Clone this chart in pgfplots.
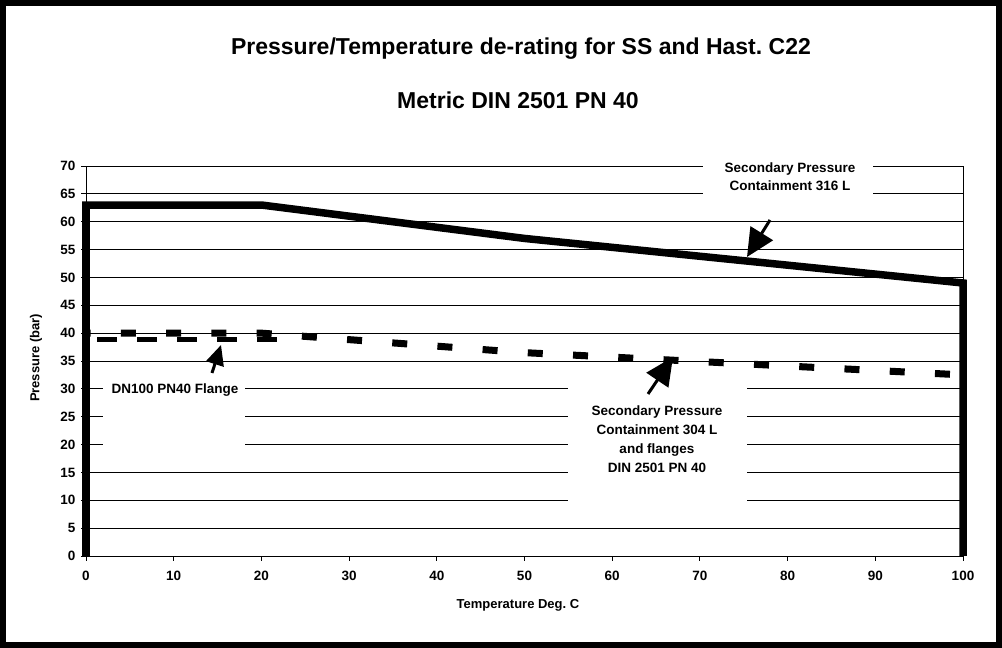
\documentclass[border=0pt]{standalone}
\usepackage{fontspec}
\setmainfont{Liberation Sans}
\usepackage{pgfplots}
\pgfplotsset{compat=1.18}
\usetikzlibrary{arrows.meta}
\frenchspacing

\begin{document}
\begin{tikzpicture}[x=1pt,y=1pt]
\path[use as bounding box] (0,0) rectangle (1002,648);
\begin{axis}[
  at={(86pt,92pt)}, anchor=south west,
  scale only axis, width=877pt, height=390pt,
  xmin=0, xmax=100, ymin=0, ymax=70,
  xtick={0,10,...,100}, ytick={0,5,...,70},
  ymajorgrids, grid style={black, line width=0.8pt},
  axis line style={black, line width=0.9pt},
  tick style={black, line width=0.9pt},
  tick align=outside, major tick length=5pt,
  xtick pos=left, ytick pos=left,
  ticklabel style={font=\bfseries\fontsize{13.5}{16}\selectfont},
  xticklabel style={yshift=-7pt},
  yticklabel style={xshift=-2pt},
  /pgf/number format/assume math mode=true,
  xlabel={Temperature Deg. C}, ylabel={Pressure (bar)},
  label style={font=\bfseries\fontsize{13}{15}\selectfont},
  xlabel style={at={(axis description cs:0.4926,-0.1256)}, anchor=center},
  ylabel style={at={(axis description cs:-0.057,0.508)}, anchor=center},
  clip=false,
]
\addplot[black, line width=5pt, dash pattern=on 20pt off 20pt, dash phase=29pt] coordinates {(0,38.8) (23.5,38.8)};
\addplot[black, line width=7pt, dash pattern=on 15pt off 30.3pt, dash phase=10.5pt] coordinates {(0,40) (20,40) (50,36.5) (100,32.5)};
\addplot[black, line width=7.5pt] coordinates {(0,0) (0,63) (20,63) (50,57) (100,49) (100,0)};
\end{axis}
% outer frame
\draw[line width=6pt] (3,3) rectangle (999,645);
% titles
\node[font=\bfseries\fontsize{23}{27}\selectfont] at (521,599) {Pressure/Temperature de-rating for SS and Hast. C22};
\node[font=\bfseries\fontsize{23}{27}\selectfont] at (518,548) {Metric DIN 2501 PN 40};
% annotation boxes
\fill[white] (703,445) rectangle (873,491);
\node[font=\bfseries\fontsize{13.5}{18}\selectfont, align=center] at (790,471) {Secondary Pressure\\Containment 316 L};
\fill[white] (103,196) rectangle (245,270);
\node[font=\bfseries\fontsize{13.5}{18}\selectfont] at (175,258) {DN100 PN40 Flange};
\fill[white] (568,136) rectangle (747,270);
\node[font=\bfseries\fontsize{13.5}{19}\selectfont, align=center] at (657,208.5) {Secondary Pressure\\Containment 304 L\\and flanges\\DIN 2501 PN 40};
% arrows
\draw[line width=3pt, -{Triangle[length=28pt,width=26pt]}] (770,428) -- (747,391);
\draw[line width=3pt, -{Triangle[length=28pt,width=26pt]}] (648,254) -- (673,291);
\draw[line width=3pt, -{Triangle[length=20pt,width=18pt]}] (212,275) -- (221,303);
\end{tikzpicture}
\end{document}
